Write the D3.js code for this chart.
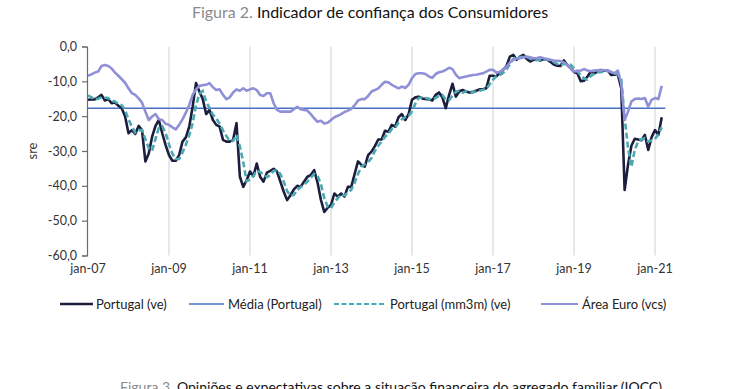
<!DOCTYPE html>
<html><head><meta charset="utf-8">
<script src="https://cdn.jsdelivr.net/npm/d3@7"></script>
<style>
html,body{margin:0;padding:0;background:#fff;}
svg{display:block;font-family:Lato,"Open Sans",sans-serif;}
</style></head>
<body>
<svg id="chart" width="740" height="389"></svg>
<script>
// ---- data (monthly, jan-07 .. mar-21) ----
const startMonth = "2007-01";
const tickLabels = ["jan-07","jan-09","jan-11","jan-13","jan-15","jan-17","jan-19","jan-21"];
const yTicks = [0,-10,-20,-30,-40,-50,-60];
const mediaPortugal = -17.7;
const portugal = [
-15.3,-15.2,-15.2,-14.6,-13.9,-15.5,-15.1,-16.3,-16.1,-17.0,-17.7,-20.1,
-24.9,-24.0,-25.1,-22.8,-24.0,-33.0,-30.7,-25.9,-22.8,-21.1,-24.9,-28.3,
-31.2,-32.8,-32.8,-31.2,-27.3,-26.1,-23.0,-17.3,-10.5,-12.9,-15.1,-19.4,
-18.2,-21.1,-22.5,-23.0,-26.8,-27.3,-27.3,-26.8,-22.0,-37.4,-40.3,-38.4,
-35.9,-37.2,-33.6,-37.4,-38.8,-36.2,-35.7,-35.1,-35.9,-38.8,-41.7,-44.1,
-42.7,-41.0,-40.0,-40.3,-38.8,-37.4,-36.9,-35.5,-39.0,-44.0,-47.5,-46.3,
-45.5,-42.2,-43.1,-42.2,-43.1,-40.3,-40.3,-36.6,-33.0,-34.0,-34.5,-31.2,
-30.2,-28.6,-26.7,-26.7,-24.2,-24.5,-22.5,-23.0,-20.3,-19.4,-21.1,-19.4,
-15.3,-14.6,-14.4,-14.9,-15.1,-15.1,-15.5,-13.9,-13.2,-14.6,-17.7,-13.9,
-10.7,-14.4,-12.9,-12.5,-12.9,-13.2,-13.1,-12.7,-12.3,-12.3,-12.0,-8.4,
-8.4,-8.6,-7.5,-6.7,-5.6,-2.9,-2.4,-3.8,-2.9,-2.4,-3.6,-4.3,
-3.8,-3.6,-4.0,-3.6,-3.8,-4.4,-5.2,-5.5,-5.6,-4.0,-5.3,-6.2,
-7.3,-7.7,-10.0,-9.8,-8.6,-7.2,-7.7,-7.2,-7.2,-6.9,-6.9,-8.2,
-8.1,-8.1,-12.0,-41.2,-34.0,-28.5,-26.5,-26.7,-26.9,-25.4,-29.7,-26.0,
-24.0,-25.4,-20.3
];
const portugalMm3m = [
-14.0,-14.6,-15.2,-15.0,-14.6,-14.7,-14.8,-15.6,-15.8,-16.5,-16.9,-18.3,
-20.9,-23.0,-24.7,-24.0,-24.0,-26.6,-29.2,-29.9,-26.5,-23.3,-22.9,-24.8,
-28.1,-30.8,-32.3,-32.3,-30.4,-28.2,-25.5,-22.1,-16.9,-13.6,-12.8,-15.8,
-17.6,-19.6,-20.6,-22.2,-24.1,-25.7,-27.1,-27.1,-25.4,-28.7,-33.2,-38.7,
-38.2,-37.2,-35.6,-36.1,-36.6,-37.5,-36.9,-35.7,-35.6,-36.6,-38.8,-41.5,
-42.8,-42.6,-41.2,-40.4,-39.7,-38.8,-37.7,-36.6,-37.1,-39.5,-43.5,-45.9,
-46.4,-44.7,-43.6,-42.5,-42.8,-41.9,-41.2,-39.1,-36.6,-34.5,-33.8,-33.2,
-32.0,-30.0,-28.5,-27.3,-25.9,-25.1,-23.7,-23.3,-21.9,-20.9,-20.3,-20.0,
-18.6,-16.4,-14.8,-14.6,-14.8,-15.0,-15.2,-14.8,-14.2,-13.9,-15.2,-15.4,
-14.1,-13.0,-12.7,-13.3,-12.8,-12.9,-13.1,-13.0,-12.7,-12.4,-12.2,-10.9,
-9.6,-8.5,-8.2,-7.6,-6.6,-5.1,-3.6,-3.0,-3.0,-3.0,-3.0,-3.4,
-3.9,-3.9,-3.8,-3.7,-3.8,-3.9,-4.5,-5.0,-5.4,-5.0,-5.0,-5.2,
-6.3,-7.1,-8.3,-9.2,-9.5,-8.5,-7.8,-7.4,-7.4,-7.1,-7.0,-7.3,
-7.7,-8.1,-9.4,-20.4,-29.1,-34.6,-29.7,-27.2,-26.7,-26.3,-27.3,-27.0,
-26.6,-25.1,-23.2
];
const areaEuro = [
-8.4,-8.0,-7.5,-7.2,-5.6,-5.3,-5.6,-6.3,-7.5,-8.4,-9.4,-10.4,
-12.0,-13.4,-13.9,-14.9,-16.1,-18.7,-21.1,-20.1,-19.4,-20.9,-21.1,-22.2,
-22.5,-23.2,-23.8,-22.5,-20.9,-19.0,-16.8,-13.9,-12.3,-11.3,-11.1,-11.0,
-10.5,-11.7,-12.5,-12.3,-13.9,-15.1,-14.6,-13.2,-12.3,-12.7,-12.0,-12.7,
-12.3,-12.0,-12.5,-13.9,-14.2,-13.4,-13.4,-16.3,-18.2,-18.7,-18.7,-18.7,
-18.7,-18.0,-17.3,-18.0,-18.2,-18.4,-19.4,-20.6,-21.6,-21.3,-22.1,-21.9,
-21.1,-20.3,-19.9,-19.4,-18.8,-18.4,-17.9,-16.9,-15.5,-15.1,-15.1,-14.2,
-12.9,-12.5,-12.0,-11.0,-10.1,-10.3,-11.0,-11.5,-12.0,-11.5,-11.9,-11.0,
-9.1,-7.9,-7.7,-7.7,-7.9,-8.6,-9.0,-7.9,-7.4,-7.2,-6.7,-6.1,
-6.5,-8.1,-9.1,-8.8,-8.6,-8.4,-8.2,-8.1,-7.9,-7.7,-7.2,-6.7,
-6.7,-7.5,-7.3,-6.7,-5.8,-4.6,-3.8,-3.4,-3.4,-3.1,-2.9,-3.1,
-3.4,-3.3,-3.1,-3.4,-3.6,-3.8,-4.0,-4.1,-4.2,-4.6,-5.3,-6.2,
-7.2,-7.0,-6.9,-6.5,-6.9,-7.1,-6.9,-6.8,-6.7,-6.8,-6.9,-7.3,
-7.7,-6.9,-10.6,-21.1,-18.7,-15.8,-15.1,-14.9,-15.1,-14.8,-17.3,-15.3,
-14.8,-15.1,-11.3
];
const seriesNames = ["Portugal (ve)","Média (Portugal)","Portugal (mm3m) (ve)","Área Euro (vcs)"];

// ---- chart ----
const svg = d3.select("#chart");
const colors = {pt:"#1b1e3d", media:"#4a70c6", mm:"#4ba9b3", eu:"#9090d8"};
const start = d3.timeParse("%Y-%m")(startMonth);
const months = d3.range(portugal.length).map(i => d3.timeMonth.offset(start, i));

const x = d3.scaleLinear().domain([0, portugal.length - 1]).range([88, 661.75]);
const y = d3.scaleLinear().domain([-60, 0]).range([255.5, 46.5]);

// title
const title = svg.append("text").attr("x", 370).attr("y", 18).attr("text-anchor", "middle")
  .style("font-size", "16px");
title.append("tspan").attr("fill", "#8a8a8a").text("Figura 2.");
title.append("tspan").attr("fill", "#111").text(" Indicador de confiança dos Consumidores");

// vertical gridlines at the labelled january ticks
const tickIdx = tickLabels.map(l => {
  const yr = 2000 + (+l.slice(4));
  return months.findIndex(m => m.getFullYear() === yr && m.getMonth() === 0);
});
svg.append("g").selectAll("line").data(tickIdx.slice(1)).join("line")
  .attr("x1", d => x(d)).attr("x2", d => x(d))
  .attr("y1", y(0)).attr("y2", y(-60))
  .attr("stroke", "#d9d9d9").attr("stroke-width", 1.2);

// y axis
const yAxis = d3.axisLeft(y).tickValues(yTicks).tickSize(5).tickPadding(5)
  .tickFormat(d => d3.format(".1f")(d).replace(".", ",").replace("−", "-"));
const gy = svg.append("g").attr("transform", "translate(87,0)").call(yAxis);
gy.select(".domain").attr("stroke", "#6b6b6b").attr("stroke-width", 1.2);
gy.selectAll(".tick line").attr("stroke", "#6b6b6b").attr("stroke-width", 1.2);
gy.selectAll(".tick text").attr("fill", "#333").style("font-size", "12.5px")
  .style("font-family", "Lato,sans-serif");

// y axis title
svg.append("text").attr("transform", "translate(37,151) rotate(-90)")
  .attr("text-anchor", "middle").attr("fill", "#333").style("font-size", "13px").text("sre");

// x labels
svg.append("g").selectAll("text").data(tickIdx).join("text")
  .attr("x", d => x(d)).attr("y", 273).attr("text-anchor", "middle")
  .attr("fill", "#333").style("font-size", "12.5px")
  .text((d, i) => tickLabels[i]);

// média line
svg.append("line").attr("x1", 87).attr("x2", x(portugal.length - 1) + 3.5)
  .attr("y1", y(mediaPortugal)).attr("y2", y(mediaPortugal))
  .attr("stroke", colors.media).attr("stroke-width", 1.5);

const line = d3.line().x((d, i) => x(i)).y(d => y(d));
svg.append("path").datum(portugal).attr("d", line).attr("fill", "none")
  .attr("stroke", colors.pt).attr("stroke-width", 2.6).attr("stroke-linejoin", "round");
svg.append("path").datum(portugalMm3m).attr("d", line).attr("fill", "none")
  .attr("stroke", colors.mm).attr("stroke-width", 2.6).attr("stroke-dasharray", "6,3");
svg.append("path").datum(areaEuro).attr("d", line).attr("fill", "none")
  .attr("stroke", colors.eu).attr("stroke-width", 2.6).attr("stroke-linejoin", "round");

// legend
const legend = [
  {name: seriesNames[0], c: colors.pt, w: 2.6, dash: null, x1: 60, x2: 93, tx: 96},
  {name: seriesNames[1], c: colors.media, w: 1.3, dash: null, x1: 189, x2: 224, tx: 228},
  {name: seriesNames[2], c: colors.mm, w: 2.2, dash: "5,2.5", x1: 334, x2: 386, tx: 390},
  {name: seriesNames[3], c: colors.eu, w: 2.2, dash: null, x1: 541, x2: 578, tx: 582}
];
const lg = svg.append("g").selectAll("g").data(legend).join("g");
lg.append("line").attr("x1", d => d.x1).attr("x2", d => d.x2).attr("y1", 304).attr("y2", 304)
  .attr("stroke", d => d.c).attr("stroke-width", d => d.w).attr("stroke-dasharray", d => d.dash);
lg.append("text").attr("x", d => d.tx).attr("y", 308.5).attr("fill", "#222")
  .style("font-size", "13px").text(d => d.name);

// next figure caption (cut at the bottom edge, as in the source page)
const t3 = svg.append("text").attr("x", 391).attr("y", 392).attr("text-anchor", "middle")
  .style("font-size", "14px");
t3.append("tspan").attr("fill", "#8a8a8a").text("Figura 3.");
t3.append("tspan").attr("fill", "#111").text(" Opiniões e expectativas sobre a situação financeira do agregado familiar (IOCC)");
</script>
</body></html>
